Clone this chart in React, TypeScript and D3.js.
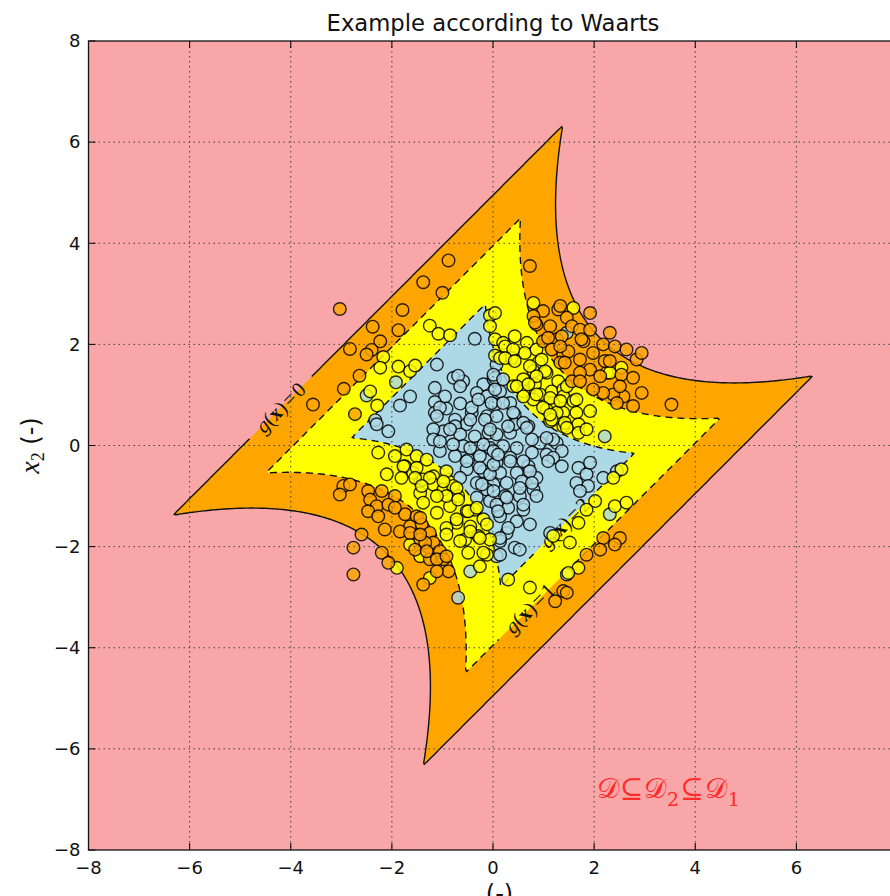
import * as d3 from "d3";
import React from "react";

const width = 890;
const height = 896;
const plot = { left: 88.5, top: 41, size: 809 };

const title = "Example according to Waarts";
const xTicks = [-8, -6, -4, -2, 0, 2, 4, 6, 8];
const yTicks = [-8, -6, -4, -2, 0, 2, 4, 6, 8];

// Waarts four-branch series system, k = 7
const branchK = 7;
const levels = [0, 1, 2];
const levelFills = ["#ffa500", "#ffff00", "#add8e6"];
const failureFill = "#f8a6a8";
const levelDash = [null, "7,5", "7,5"];

// contour labels: level, position on the line (data units)
const contourLabels = [
  { level: 0, x1: -4.2, x2: 0.75 },
  { level: 1, x1: 0.73, x2: -3.22 },
  { level: 2, x1: 1.42, x2: -1.53 },
];

// samples
const bluePoints: [number, number][] = [
  [-0.36, 2.11], [-1.11, 1.6], [-1.92, 1.25], [-2.5, 0.99], [-0.78, 1.34], [-0.59, 1.27], [-0.69, 1.38],
  [-1.15, 1.14], [-1.64, 0.97], [-0.95, 0.97], [-1.15, 0.86], [-1.84, 0.79], [-0.65, 0.83], [-0.19, 1.21],
  [-0.32, 1.04], [-0.12, 0.97], [0.01, 1.31], [0.04, 0.81], [-2.33, 0.5], [-1.15, 0.65], [-0.92, 0.73],
  [-0.42, 0.65], [-0.12, 0.58], [-0.75, 0.51], [-0.52, 0.42], [0.04, 1.34], [0.14, 1.07], [-1.05, 0.75],
  [-1.11, 0.58], [-0.42, 0.75], [-0.29, 0.91], [0.34, 0.84], [0.43, 0.61], [0.07, 0.58], [-0.16, 0.51],
  [-0.45, 0.51], [-0.75, 0.38], [-0.98, 0.28], [-1.18, 0.32], [-1.18, 0.12], [-1.05, -0.11], [-0.65, 0.22],
  [-0.36, 0.18], [-0.09, 0.25], [0.07, 0.22], [0.34, 0.25], [0.7, 0.38], [0.43, 0.42], [0.93, 0.05],
  [1.26, 0.05], [1.36, -0.11], [0.77, -0.14], [1.06, -0.18], [1.19, -0.24], [1.36, -0.41], [-0.59, -0.01],
  [-0.32, -0.05], [-0.06, -0.05], [0.2, -0.01], [0.47, -0.05], [-0.75, -0.21], [-0.49, -0.28], [-0.26, -0.21],
  [0.07, -0.34], [0.34, -0.24], [-0.52, -0.47], [-0.19, -0.51], [0.14, -0.54], [0.47, -0.54], [0.7, -0.41],
  [0.86, -0.64], [-0.32, -0.74], [0.01, -0.77], [0.27, -0.74], [0.57, -0.71], [0.8, -0.87], [0.53, -1.0],
  [0.24, -1.0], [-0.12, -0.87], [-0.06, -1.1], [0.3, -1.23], [0.6, -1.27], [0.14, -1.4], [0.47, -1.5],
  [0.27, -1.73], [0.14, -1.89], [0.43, -2.02], [0.53, -2.06], [0.07, -2.19], [-0.65, 1.17], [1.19, 0.12],
  [0.77, 0.12], [1.46, 2.23], [0.07, 1.6], [0.01, 1.4], [0.2, 1.31], [0.04, 1.11], [-0.03, 0.84], [0.2, 0.84],
  [0.4, 0.65], [0.6, 0.45], [0.3, 0.38], [-2.07, 0.28], [-2.3, 0.42], [-0.85, 0.32], [-0.06, 0.32],
  [-1.05, 0.08], [-0.79, 0.02], [-0.45, -0.05], [-0.19, 0.02], [0.01, -0.11], [-0.52, -0.31], [-0.26, -0.44],
  [-0.06, -0.57], [-0.65, -0.64], [-0.22, -0.77], [0.01, -0.9], [-0.32, -1.03], [0.07, -1.17], [-0.45, -2.49],
  [-0.69, -3.01], [0.01, -0.38], [-1.44, -0.71], [0.67, 0.35], [1.06, 0.15], [0.1, -0.18], [0.34, -0.31],
  [0.6, -0.31], [0.73, -0.51], [1.09, -0.31], [1.69, -0.44], [1.85, -0.57], [1.92, -0.34], [1.65, -0.74],
  [1.88, -0.8], [2.18, -0.64], [1.72, -0.9], [0.53, -0.84], [0.77, -0.74], [0.86, -1.0], [0.27, -1.03],
  [0.6, -1.17], [0.1, -1.3], [0.3, -1.63], [0.73, -1.56], [0.14, -1.83], [0.14, -2.16], [1.13, -1.73],
  [2.21, 0.18], [2.31, -1.36], [2.45, -0.51], [1.46, -2.55],
];

const yellowPoints: [number, number][] = [
  [-1.25, 2.37], [-1.08, 2.21], [-0.85, 2.18], [-2.17, 1.75], [-2.23, 1.54], [-1.87, 1.56], [-1.64, 1.47],
  [-1.54, 1.58], [-2.43, 1.07], [-2.29, 0.79], [-0.06, 2.57], [-0.06, 2.36], [0.04, 2.1], [0.04, 1.78],
  [0.2, 2.03], [0.43, 2.16], [0.67, 2.03], [0.63, 1.83], [0.37, 1.73], [0.14, 1.73], [0.9, 1.64], [0.8, 1.47],
  [1.06, 1.44], [1.29, 1.27], [0.83, 1.21], [0.4, 1.17], [0.6, 1.07], [0.93, 1.01], [1.16, 1.07], [1.39, 1.11],
  [0.8, 0.91], [1.19, 0.84], [1.39, 0.65], [1.13, 0.48], [1.39, 0.38], [1.06, 0.71], [-1.71, -0.08],
  [-1.51, -0.21], [-1.31, -0.28], [-1.74, -0.41], [-1.58, -0.54], [-1.38, -0.67], [-1.18, -0.61],
  [-0.92, -0.51], [-1.44, -0.94], [-1.18, -0.77], [-0.98, -0.87], [-0.79, -0.8], [-0.69, -1.0], [-0.85, -1.2],
  [-1.11, -1.33], [-0.52, -1.3], [-0.36, -1.27], [-0.19, -1.46], [-0.45, -1.6], [-0.72, -1.53], [-0.92, -1.63],
  [-0.55, -1.86], [-0.29, -1.79], [-0.06, -1.86], [-0.49, -2.12], [-0.12, -2.16], [-0.26, -2.39], [0.8, 2.82],
  [1.59, 2.72], [0.04, 2.62], [0.24, 1.96], [0.4, 1.9], [0.24, 1.73], [0.73, 1.57], [1.03, 1.47], [0.86, 1.37],
  [0.6, 1.31], [1.13, 0.94], [1.39, 0.97], [1.59, 0.88], [1.26, 0.65], [1.65, 0.65], [1.92, 0.68], [0.99, 0.75],
  [1.42, 0.45], [1.69, 0.42], [1.16, 0.51], [2.54, 1.54], [2.25, 1.44], [0.86, 1.9], [0.43, 1.67], [0.96, 1.7],
  [0.47, 1.17], [0.7, 1.21], [0.86, 1.01], [0.6, 0.97], [1.33, 0.88], [1.46, 1.17], [1.65, 0.91], [1.13, 0.61],
  [2.31, 1.44], [-2.27, -0.14], [-1.94, -0.21], [-2.1, -0.57], [-1.77, -0.41], [-1.51, -0.44], [-1.81, -0.64],
  [-1.54, -0.64], [-1.25, -0.64], [-1.41, -0.8], [-0.98, -0.71], [-0.72, -0.84], [-0.92, -1.0], [-0.69, -1.07],
  [-1.11, -1.0], [-1.38, -1.13], [-0.49, -1.3], [-0.32, -1.23], [-0.72, -1.46], [-0.45, -1.7], [-0.26, -1.83],
  [-0.12, -1.56], [-0.65, -1.89], [-0.92, -1.76], [-0.19, -2.12], [-1.9, -2.42], [-1.64, -1.96], [-1.44, -2.19],
  [-1.25, -2.62], [1.46, 0.35], [1.69, 0.25], [1.85, 0.32], [2.54, -0.47], [2.38, -0.64], [2.02, -1.1],
  [1.85, -1.27], [2.41, -1.2], [2.64, -1.13], [1.69, -1.53], [1.19, -1.79], [1.52, -1.92], [0.3, -2.65],
  [0.73, -2.81], [1.69, -2.42], [1.49, -2.52],
];

const orangePoints: [number, number][] = [
  [-0.88, 3.66], [-3.03, 2.7], [-1.38, 3.23], [-1.0, 3.02], [-1.79, 2.68], [-2.38, 2.35], [-1.87, 2.28],
  [-2.23, 2.06], [-2.83, 1.91], [-2.4, 1.89], [-2.5, 1.8], [-2.64, 1.38], [-2.95, 1.12], [-2.73, 0.62],
  [-3.56, 0.81], [0.86, 2.39], [1.13, 2.36], [1.26, 2.1], [0.99, 2.06], [1.16, 1.9], [1.39, 1.8], [1.33, 1.64],
  [-1.74, -1.36], [-1.51, -1.4], [-1.64, -1.6], [-1.41, -1.56], [-1.25, -1.73], [-1.44, -1.86], [-1.18, -1.92],
  [-1.05, -2.09], [-0.98, -2.25], [-1.25, -2.25], [-1.54, -2.06], [0.73, 3.55], [0.99, 2.66], [1.29, 2.69],
  [1.46, 2.53], [0.8, 2.56], [1.09, 2.13], [1.36, 2.16], [1.56, 2.36], [1.92, 2.62], [1.72, 2.29], [1.79, 2.06],
  [2.18, 2.0], [1.98, 1.83], [2.31, 2.23], [2.41, 1.96], [1.49, 1.86], [1.42, 1.64], [1.72, 1.7], [1.92, 1.5],
  [2.12, 1.37], [1.72, 1.44], [1.56, 1.27], [2.21, 1.67], [2.64, 1.9], [2.84, 1.7], [2.94, 1.83], [2.54, 1.4],
  [2.77, 1.34], [2.94, 1.04], [3.53, 0.81], [2.77, 0.78], [2.58, 0.97], [2.38, 1.01], [2.18, 1.04], [1.98, 1.11],
  [2.45, 0.84], [1.33, 2.76], [0.83, 2.43], [1.33, 1.96], [1.75, 2.1], [2.31, 1.67], [2.51, 1.17], [1.72, 1.27],
  [1.92, 2.29], [-2.96, -0.8], [-2.83, -0.77], [-3.03, -0.97], [-2.47, -0.9], [-2.2, -0.9], [-2.43, -1.07],
  [-1.94, -1.0], [-2.3, -1.2], [-2.07, -1.17], [-2.47, -1.3], [-1.94, -1.23], [-2.27, -1.4], [-1.44, -1.43],
  [-2.6, -1.76], [-2.14, -1.66], [-1.84, -1.7], [-1.64, -1.73], [-2.76, -2.02], [-2.2, -2.12], [-2.07, -2.32],
  [-1.34, -1.92], [-1.44, -1.76], [-1.31, -2.09], [-1.11, -2.25], [-0.92, -2.19], [-0.88, -2.49], [-1.11, -2.49],
  [-1.38, -2.75], [-2.76, -2.55], [2.18, -1.83], [2.51, -1.83], [2.41, -1.96], [2.12, -2.06], [1.85, -2.16],
  [1.39, -2.88], [1.23, -3.08], [1.46, -2.91],
];

const pointSets = [
  { pts: bluePoints, fill: "#add8e6" },
  { pts: yellowPoints, fill: "#ffff00" },
  { pts: orangePoints, fill: "#ffa500" },
];

const limitState = (x1: number, x2: number) => {
  const s = (x1 + x2) / Math.SQRT2;
  const d = x1 - x2;
  return Math.min(
    3 + 0.1 * d * d - s,
    3 + 0.1 * d * d + s,
    d + branchK / Math.SQRT2,
    -d + branchK / Math.SQRT2
  );
};

const minus = (v: number) => (v < 0 ? "\u2212" + Math.abs(v) : String(v));

const App = () => {
  const x = d3.scaleLinear().domain([-8, 8]).range([plot.left, plot.left + plot.size]);
  const y = d3.scaleLinear().domain([-8, 8]).range([plot.top + plot.size, plot.top]);

  // grid of g values for the filled contours
  const gMin = -8.4;
  const gStep = 0.04;
  const n = 421;
  const values: number[] = new Array(n * n);
  for (let j = 0; j < n; j++)
    for (let i = 0; i < n; i++) values[i + j * n] = limitState(gMin + i * gStep, gMin + j * gStep);
  const contours = d3.contours().size([n, n]).thresholds(levels)(values);
  const proj = d3.geoTransform({
    point(px: number, py: number) {
      this.stream.point(x(gMin + (px - 0.5) * gStep), y(gMin + (py - 0.5) * gStep));
    },
  });
  const path = d3.geoPath(proj);

  const right = plot.left + plot.size;
  const bottom = plot.top + plot.size;
  const tickLen = 7;
  const labelW = 88;
  const labelH = 22;

  return (
    <div style={{ position: "fixed", left: 0, top: 0, width, height, overflow: "hidden", background: "#fff" }}>
      <svg width={width} height={height} style={{ display: "block" }}>
        <defs>
          <clipPath id="plotClip">
            <rect x={plot.left} y={plot.top} width={plot.size} height={plot.size} />
          </clipPath>
          <mask id="labelGap">
            <rect x={0} y={0} width={width} height={height} fill="white" />
            {contourLabels.map((l) => (
              <rect
                key={l.level}
                x={-labelW / 2}
                y={-labelH / 2}
                width={labelW}
                height={labelH}
                fill="black"
                transform={`translate(${x(l.x1)},${y(l.x2)}) rotate(-45)`}
              />
            ))}
          </mask>
        </defs>

        <g clipPath="url(#plotClip)">
          <rect x={plot.left} y={plot.top} width={plot.size} height={plot.size} fill={failureFill} />
          {contours.map((c, i) => (
            <path key={"f" + i} d={path(c) || ""} fill={levelFills[i]} stroke="none" />
          ))}
          <g mask="url(#labelGap)">
            {contours.map((c, i) => (
              <path
                key={"l" + i}
                d={path(c) || ""}
                fill="none"
                stroke="#111"
                strokeWidth={1.4}
                strokeDasharray={levelDash[i] || undefined}
              />
            ))}
          </g>
          {contourLabels.map((l) => (
            <text
              key={"t" + l.level}
              transform={`translate(${x(l.x1)},${y(l.x2)}) rotate(-45)`}
              textAnchor="middle"
              dominantBaseline="central"
              fontFamily="Liberation Serif"
              fontSize={21}
              fill="#111"
            >
              <tspan fontStyle="italic">g</tspan>(<tspan fontWeight="bold">x</tspan>)
              <tspan dx={2}>=</tspan>
              <tspan dx={2}>{l.level}</tspan>
            </text>
          ))}

          {pointSets.map((s, k) => (
            <g key={"p" + k}>
              {s.pts.map((p, i) => (
                <circle
                  key={i}
                  cx={x(p[0])}
                  cy={y(p[1])}
                  r={6.3}
                  fill={s.fill}
                  stroke="#000"
                  strokeWidth={1.4}
                  opacity={0.82}
                />
              ))}
            </g>
          ))}

          {/* dotted grid, on top as in the classic style */}
          {xTicks.slice(1, -1).map((t) => (
            <line key={"gx" + t} x1={x(t)} x2={x(t)} y1={plot.top} y2={bottom} stroke="#444" strokeWidth={1} strokeDasharray="1.5,3.5" />
          ))}
          {yTicks.slice(1, -1).map((t) => (
            <line key={"gy" + t} x1={plot.left} x2={right} y1={y(t)} y2={y(t)} stroke="#444" strokeWidth={1} strokeDasharray="1.5,3.5" />
          ))}
        </g>

        {/* ticks pointing inward on all sides */}
        {xTicks.map((t) => (
          <g key={"tx" + t}>
            <line x1={x(t)} x2={x(t)} y1={bottom} y2={bottom - tickLen} stroke="#000" strokeWidth={1} />
            <line x1={x(t)} x2={x(t)} y1={plot.top} y2={plot.top + tickLen} stroke="#000" strokeWidth={1} />
            {x(t) < width - 10 && (
              <text x={x(t)} y={bottom + 24} textAnchor="middle" fontFamily="DejaVu Sans" fontSize={18} fill="#111">
                {minus(t)}
              </text>
            )}
          </g>
        ))}
        {yTicks.map((t) => (
          <g key={"ty" + t}>
            <line x1={plot.left} x2={plot.left + tickLen} y1={y(t)} y2={y(t)} stroke="#000" strokeWidth={1} />
            <line x1={right} x2={right - tickLen} y1={y(t)} y2={y(t)} stroke="#000" strokeWidth={1} />
            <text x={plot.left - 8} y={y(t)} dy="0.35em" textAnchor="end" fontFamily="DejaVu Sans" fontSize={18} fill="#111">
              {minus(t)}
            </text>
          </g>
        ))}
        <rect x={plot.left} y={plot.top} width={plot.size} height={plot.size} fill="none" stroke="#111" strokeWidth={1.3} />

        <text x={x(2.05)} y={y(-6.98)} fill="#ff2a2a" fontFamily="DejaVu Serif" fontSize={28} letterSpacing={1}>
          𝒟⊆𝒟<tspan dy={8} fontSize={19}>2</tspan>
          <tspan dy={-8}>⊆</tspan>𝒟<tspan dy={8} fontSize={19}>1</tspan>
        </text>

        <text x={x(0)} y={31} textAnchor="middle" fontFamily="DejaVu Sans" fontSize={22.7} fill="#111">
          {title}
        </text>

        <text transform={`translate(39,${y(0)}) rotate(-90)`} textAnchor="middle" fill="#111">
          <tspan fontFamily="Liberation Serif" fontStyle="italic" fontSize={28}>x</tspan>
          <tspan fontFamily="Liberation Serif" fontSize={18} dy={5}>2</tspan>
          <tspan fontFamily="DejaVu Sans" fontSize={24} dy={-5}> (-)</tspan>
        </text>
        <text x={x(0) - 8} y={902} textAnchor="middle" fill="#111">
          <tspan fontFamily="Liberation Serif" fontStyle="italic" fontSize={28} dy={7}>x</tspan>
          <tspan fontFamily="Liberation Serif" fontSize={18} dy={5}>1</tspan>
          <tspan fontFamily="DejaVu Sans" fontSize={24} dy={-12}> (-)</tspan>
        </text>
      </svg>
    </div>
  );
};

export default App;
